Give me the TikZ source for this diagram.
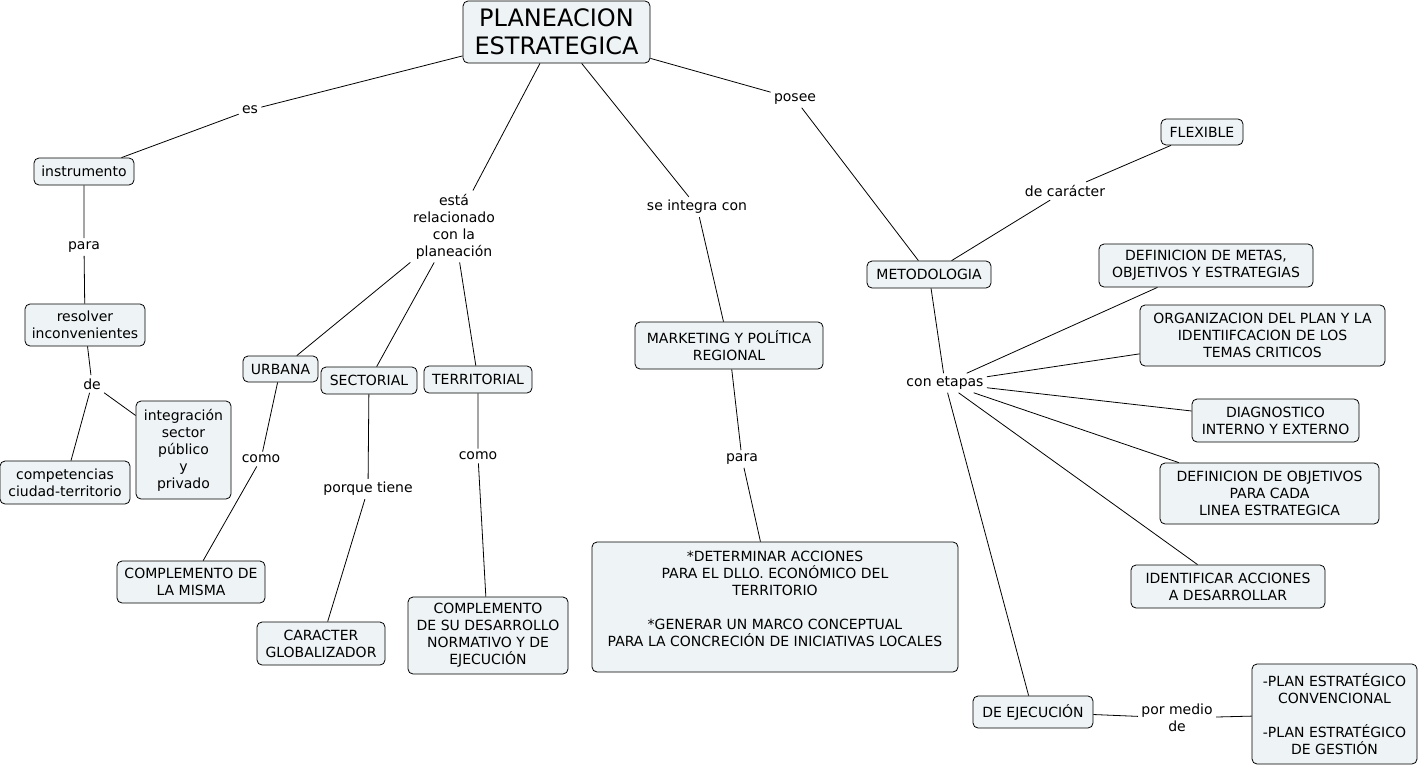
\documentclass[tikz,border=0pt]{standalone}
\usepackage{fontspec}
\setmainfont{DejaVu Sans}
\definecolor{cmapfill}{RGB}{238,243,245}
\begin{document}
\begin{tikzpicture}[x=1pt,y=-1pt,line width=0.8pt,
  concept/.style 2 args={draw,rounded corners=5pt,fill=cmapfill,align=center,inner sep=0pt,
    minimum width=#1pt,minimum height=#2pt,font=\fontsize{14}{17}\selectfont},
  linkword/.style={align=center,inner sep=3pt,yshift=-2pt,font=\fontsize{14}{17}\selectfont}]
 \fill[white] (0,0) rectangle (1421,766);
 \useasboundingbox (0,0) rectangle (1421,766);
 \node[concept={187}{62},font=\fontsize{24}{28}\selectfont] (pe) at (556.5,32) {PLANEACION\\ESTRATEGICA};
 \node[concept={100}{27}] (instr) at (84,171.5) {instrumento};
 \node[concept={120}{42}] (resolver) at (85,325) {resolver\\inconvenientes};
 \node[concept={130}{43}] (compet) at (65,482.5) {competencias\\ciudad-territorio};
 \node[concept={95}{98}] (integr) at (183.5,450) {integración\\sector\\público\\y\\privado};
 \node[concept={75}{26}] (urbana) at (280.5,369) {URBANA};
 \node[concept={96}{27}] (sector) at (369,380.5) {SECTORIAL};
 \node[concept={108}{27}] (territ) at (478,379.5) {TERRITORIAL};
 \node[concept={148}{42}] (misma) at (191,582) {COMPLEMENTO DE\\LA MISMA};
 \node[concept={128}{43}] (global) at (321,643.5) {CARACTER\\GLOBALIZADOR};
 \node[concept={160}{77}] (normat) at (488,635.5) {COMPLEMENTO\\DE SU DESARROLLO\\NORMATIVO Y DE\\EJECUCIÓN};
 \node[concept={188}{47}] (market) at (729,345.5) {MARKETING Y POLÍTICA\\REGIONAL};
 \node[concept={366}{130}] (acciones) at (775,607) {*DETERMINAR ACCIONES\\PARA EL DLLO. ECONÓMICO DEL\\TERRITORIO\\ \\*GENERAR UN MARCO CONCEPTUAL\\PARA LA CONCRECIÓN DE INICIATIVAS LOCALES\\ ~};
 \node[concept={124}{27}] (metod) at (929,274.5) {METODOLOGIA};
 \node[concept={82}{26}] (flex) at (1202,132) {FLEXIBLE};
 \node[concept={214}{43}] (metas) at (1206,265.5) {DEFINICION DE METAS,\\OBJETIVOS Y ESTRATEGIAS};
 \node[concept={245}{61}] (organiz) at (1262.5,335.5) {ORGANIZACION DEL PLAN Y LA\\IDENTIIFCACION DE LOS\\TEMAS CRITICOS};
 \node[concept={167}{43}] (diagn) at (1275.5,420.5) {DIAGNOSTICO\\INTERNO Y EXTERNO};
 \node[concept={219}{61}] (objet) at (1269.5,493.5) {DEFINICION DE OBJETIVOS\\PARA CADA\\LINEA ESTRATEGICA};
 \node[concept={194}{43}] (identif) at (1228,586.5) {IDENTIFICAR ACCIONES\\A DESARROLLAR};
 \node[concept={120}{32}] (ejec) at (1033,712) {DE EJECUCIÓN};
 \node[concept={165}{100}] (planes) at (1334.5,714) {-PLAN ESTRATÉGICO\\CONVENCIONAL\\ \\-PLAN ESTRATÉGICO\\DE GESTIÓN};
 \node[linkword] (es) at (250,108) {es};
 \node[linkword] (rel) at (454,224.5) {está\\relacionado\\con la\\planeación};
 \node[linkword] (integra) at (697,205) {se integra con};
 \node[linkword] (posee) at (795,97) {posee};
 \node[linkword] (para) at (84,245) {para};
 \node[linkword] (de) at (92,382) {de};
 \node[linkword] (comoU) at (261,457) {como};
 \node[linkword] (porque) at (368,487) {porque tiene};
 \node[linkword] (comoT) at (478,454) {como};
 \node[linkword] (paraM) at (742,457) {para};
 \node[linkword] (decar) at (1065,189) {de carácter};
 \node[linkword] (etapas) at (945,381) {con etapas};
 \node[linkword] (medio) at (1177,716) {por medio\\de};
 \draw (pe) -- (es) -- (instr);
 \draw (pe) -- (rel);
 \draw (rel) -- (urbana);
 \draw (rel) -- (sector);
 \draw (rel) -- (territ);
 \draw (pe) -- (integra) -- (market) -- (paraM) -- (acciones);
 \draw (pe) -- (posee) -- (metod) -- (decar) -- (flex);
 \draw (instr) -- (para) -- (resolver) -- (de) -- (compet);
 \draw (de) -- (integr);
 \draw (urbana) -- (comoU) -- (misma);
 \draw (sector) -- (porque) -- (global);
 \draw (territ) -- (comoT) -- (normat);
 \draw (metod) -- (etapas);
 \draw (etapas) -- (metas);
 \draw (etapas) -- (organiz);
 \draw (etapas) -- (diagn);
 \draw (etapas) -- (objet);
 \draw (etapas) -- (identif);
 \draw (etapas) -- (ejec) -- (medio) -- (planes);
\end{tikzpicture}
\end{document}
